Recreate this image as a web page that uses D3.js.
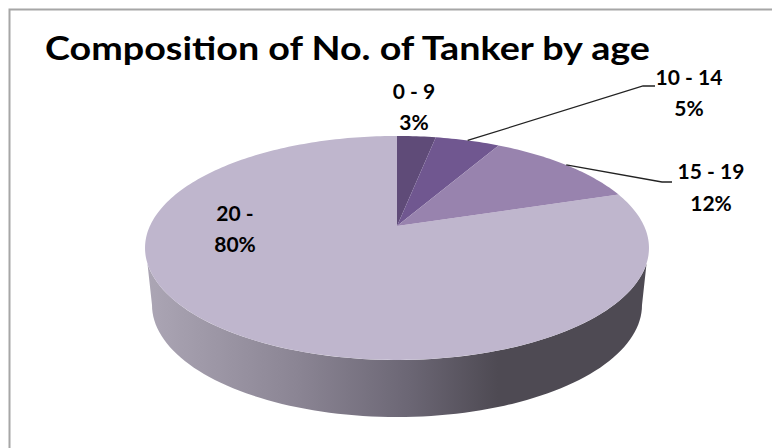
<!DOCTYPE html>
<html><head><meta charset="utf-8">
<script src="https://cdn.jsdelivr.net/npm/d3@7"></script>
<style>html,body{margin:0;padding:0;background:#fff}svg{display:block}
text{font-family:Lato,"Open Sans",sans-serif;fill:#000}</style></head>
<body><svg id="c" width="772" height="448"></svg>
<script>
const categories=["0 - 9","10 - 14","15 - 19","20 -"];
const shares=[3,5,12,80];
const shareLabels=["3%","5%","12%","80%"];
const colors=["#5f4b78","#705790","#9883ae","#bfb6cd"];
const title="Composition of No. of Tanker by age";

const svg=d3.select("#c");
const W=772,H=448;
svg.append("path").attr("d",`M9.5,${H}V9.5H${W}`).attr("fill","none")
  .attr("stroke","#a6a6a6").attr("stroke-width",2);

const cx=397,cy=248,rx=252,ry=112,offset=-22,persp=-0.196,depth=57,rxB=245;
const halfW=rx*Math.sqrt(1-(offset/ry)**2);
function project(a){
  const u=Math.sin(a),v=-Math.cos(a),w=1+persp*v;
  return [cx+halfW*u/w,cy+(ry*v+offset)/w];
}
const apex=[cx,cy+offset];
const line=d3.line();

// side wall
const defs=svg.append("defs");
const grad=defs.append("linearGradient").attr("id","wall").attr("gradientUnits","userSpaceOnUse")
  .attr("x1",cx-rx).attr("x2",cx+rx).attr("y1",0).attr("y2",0);
[[0,"#aca6b5"],[0.3,"#8b8594"],[0.52,"#6c6775"],[0.7,"#4e4a53"],[1,"#4e4a53"]]
  .forEach(s=>grad.append("stop").attr("offset",s[0]).attr("stop-color",s[1]));
const rad=d=>d*Math.PI/180;
const upper=d3.range(8,173,2).map(rad).map(t=>[cx+rx*Math.cos(t),cy+ry*Math.sin(t)]);
const lower=d3.range(180,-1,-2).map(rad).map(t=>[cx+rxB*Math.cos(t),cy+depth+ry*Math.sin(t)]);
svg.append("path").attr("d",line(upper.concat(lower))+"Z").attr("fill","url(#wall)");

// top face
const arcs=d3.pie().sort(null).value(d=>d)(shares);
const order=[3,0,1,2];
svg.append("g").selectAll("path").data(order).join("path")
  .attr("fill",i=>colors[i])
  .attr("d",i=>{
    const a=arcs[i],n=Math.ceil((a.endAngle-a.startAngle)/0.02);
    const pts=d3.range(n+1).map(k=>project(a.startAngle+(a.endAngle-a.startAngle)*k/n));
    return line([apex,...pts])+"Z";
  });

// leader lines
const midPt=i=>project((arcs[i].startAngle+arcs[i].endAngle)/2);
const leaders=[[1,[643,86],[655,86]],[2,[662,182],[672,182]]];
svg.append("g").selectAll("path").data(leaders).join("path")
  .attr("fill","none").attr("stroke","#222").attr("stroke-width",1.3)
  .attr("d",d=>line([midPt(d[0]),d[1],d[2]]));

// texts
svg.append("text").attr("x",45).attr("y",60).attr("font-size",32).attr("font-weight",700)
  .attr("textLength",605).attr("lengthAdjust","spacingAndGlyphs").text(title);
const labelPos=[[414,99,130],[689,85,116],[711,179,211],[235,221,252]];
labelPos.forEach((p,i)=>{
  [[categories[i],p[1]],[shareLabels[i],p[2]]].forEach(t=>{
    svg.append("text").attr("x",p[0]).attr("y",t[1]).attr("text-anchor","middle")
      .attr("font-size",21).attr("font-weight",700).text(t[0]);
  });
});
</script></body></html>
